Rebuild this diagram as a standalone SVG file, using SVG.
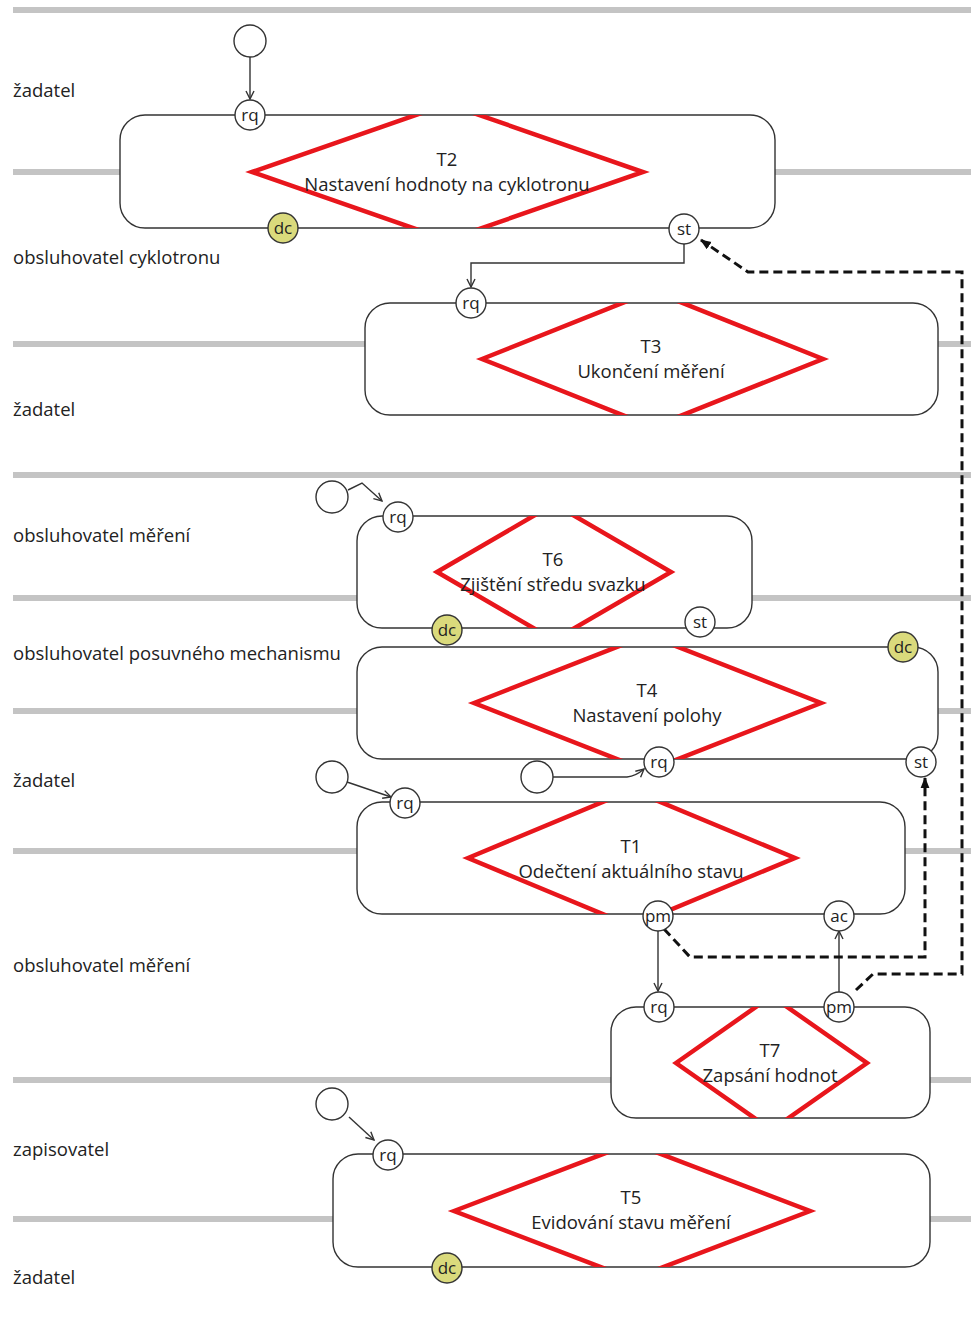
<svg xmlns="http://www.w3.org/2000/svg" width="971" height="1328" viewBox="0 0 971 1328">
  <style>
    .lane { stroke: #c4c4c4; stroke-width: 6; fill: none; }
    .role { font-family: "Open Sans", "Noto Sans", sans-serif; font-size: 18.5px; fill: #222; }
    .box { fill: #fff; stroke: #333; stroke-width: 1.4; }
    .dia { fill: none; stroke: #e8161c; stroke-width: 4.5; stroke-linejoin: miter; }
    .ttl { font-family: "Open Sans", "Noto Sans", sans-serif; font-size: 18.5px; fill: #222; text-anchor: middle; }
    .port { fill: #fff; stroke: #333; stroke-width: 1.4; }
    .done { fill: #dada7c; stroke: #333; stroke-width: 1.4; }
    .plbl { font-family: "Open Sans", "Noto Sans", sans-serif; font-size: 17px; fill: #222; text-anchor: middle; }
    .start { fill: #fff; stroke: #333; stroke-width: 1.4; }
    .flow { fill: none; stroke: #333; stroke-width: 1.4; marker-end: url(#open); }
    .wait { fill: none; stroke: #111; stroke-width: 3; stroke-dasharray: 9 5; marker-end: url(#solid); }
  </style>
  <defs>
    <marker id="open" viewBox="0 0 10 10" refX="9" refY="5" markerWidth="10" markerHeight="10" markerUnits="userSpaceOnUse" orient="auto">
      <path d="M1,1 L9,5 L1,9" fill="none" stroke="#333" stroke-width="1.4"/>
    </marker>
    <marker id="solid" viewBox="0 0 10 10" refX="9" refY="5" markerWidth="11" markerHeight="11" markerUnits="userSpaceOnUse" orient="auto">
      <path d="M0,1 L10,5 L0,9 Z" fill="#111"/>
    </marker>
    <clipPath id="c2"><rect x="120" y="115" width="655" height="113" rx="25"/></clipPath>
    <clipPath id="c3"><rect x="365" y="303" width="573" height="112" rx="25"/></clipPath>
    <clipPath id="c6"><rect x="357" y="516" width="395" height="112" rx="25"/></clipPath>
    <clipPath id="c4"><rect x="357" y="647" width="581" height="112" rx="25"/></clipPath>
    <clipPath id="c1"><rect x="357" y="802" width="548" height="112" rx="25"/></clipPath>
    <clipPath id="c7"><rect x="611" y="1007" width="319" height="111" rx="25"/></clipPath>
    <clipPath id="c5"><rect x="333" y="1154" width="597" height="113" rx="25"/></clipPath>
  </defs>
  <rect width="971" height="1328" fill="#fff"/>

  <!-- swimlane separators -->
  <g id="lanes">
    <line class="lane" x1="13" y1="10" x2="971" y2="10"/>
    <line class="lane" x1="13" y1="172" x2="971" y2="172"/>
    <line class="lane" x1="13" y1="344" x2="971" y2="344"/>
    <line class="lane" x1="13" y1="475" x2="971" y2="475"/>
    <line class="lane" x1="13" y1="598" x2="971" y2="598"/>
    <line class="lane" x1="13" y1="711" x2="971" y2="711"/>
    <line class="lane" x1="13" y1="851" x2="971" y2="851"/>
    <line class="lane" x1="13" y1="1080" x2="971" y2="1080"/>
    <line class="lane" x1="13" y1="1219" x2="971" y2="1219"/>
  </g>

  <!-- actor roles -->
  <g id="roles">
    <text class="role" x="13" y="97">žadatel</text>
    <text class="role" x="13" y="264">obsluhovatel cyklotronu</text>
    <text class="role" x="13" y="416">žadatel</text>
    <text class="role" x="13" y="542">obsluhovatel měření</text>
    <text class="role" x="13" y="660">obsluhovatel posuvného mechanismu</text>
    <text class="role" x="13" y="787">žadatel</text>
    <text class="role" x="13" y="972">obsluhovatel měření</text>
    <text class="role" x="13" y="1156">zapisovatel</text>
    <text class="role" x="13" y="1284">žadatel</text>
  </g>

  <!-- transactions -->
  <g id="T2">
    <rect class="box" x="120" y="115" width="655" height="113" rx="25"/>
    <polygon class="dia" clip-path="url(#c2)" points="252,172 447.5,104 643,172 447.5,240"/>
    <text class="ttl" x="447" y="166">T2</text>
    <text class="ttl" x="447" y="191">Nastavení hodnoty na cyklotronu</text>
  </g>
  <g id="T3">
    <rect class="box" x="365" y="303" width="573" height="112" rx="25"/>
    <polygon class="dia" clip-path="url(#c3)" points="482,359 652.5,291 823,359 652.5,427"/>
    <text class="ttl" x="651" y="353">T3</text>
    <text class="ttl" x="651" y="378">Ukončení měření</text>
  </g>
  <g id="T6">
    <rect class="box" x="357" y="516" width="395" height="112" rx="25"/>
    <polygon class="dia" clip-path="url(#c6)" points="437,572 554,504 671,572 554,640"/>
    <text class="ttl" x="553" y="566">T6</text>
    <text class="ttl" x="553" y="591">Zjištění středu svazku</text>
  </g>
  <g id="T4">
    <rect class="box" x="357" y="647" width="581" height="112" rx="25"/>
    <polygon class="dia" clip-path="url(#c4)" points="474,703 647.5,635 821,703 647.5,771"/>
    <text class="ttl" x="647" y="697">T4</text>
    <text class="ttl" x="647" y="722">Nastavení polohy</text>
  </g>
  <g id="T1">
    <rect class="box" x="357" y="802" width="548" height="112" rx="25"/>
    <polygon class="dia" clip-path="url(#c1)" points="468,858 631.5,790 795,858 631.5,926"/>
    <text class="ttl" x="631" y="853">T1</text>
    <text class="ttl" x="631" y="878">Odečtení aktuálního stavu</text>
  </g>
  <g id="T7">
    <rect class="box" x="611" y="1007" width="319" height="111" rx="25"/>
    <polygon class="dia" clip-path="url(#c7)" points="676,1063 771.5,996 867,1063 771.5,1130"/>
    <text class="ttl" x="770" y="1057">T7</text>
    <text class="ttl" x="770" y="1082">Zapsání hodnot</text>
  </g>
  <g id="T5">
    <rect class="box" x="333" y="1154" width="597" height="113" rx="25"/>
    <polygon class="dia" clip-path="url(#c5)" points="454,1211 632,1143 810,1211 632,1279"/>
    <text class="ttl" x="631" y="1204">T5</text>
    <text class="ttl" x="631" y="1229">Evidování stavu měření</text>
  </g>

  <!-- initiation starts -->
  <g id="starts">
    <circle class="start" cx="250" cy="41" r="16"/>
    <circle class="start" cx="332" cy="497" r="16"/>
    <circle class="start" cx="537" cy="777" r="16"/>
    <circle class="start" cx="332" cy="777" r="16"/>
    <circle class="start" cx="332" cy="1104" r="16"/>
  </g>

  <!-- connectors -->
  <g id="connectors">
    <path class="flow" d="M250,57 L250,99"/>
    <path class="flow" d="M684,244 L684,263 L471,263 L471,287"/>
    <path class="flow" d="M348,490 L362,483 L382,501"/>
    <path class="flow" d="M553,777 L627,777 Q636,776 644,769"/>
    <path class="flow" d="M347,782 L391,797"/>
    <path class="flow" d="M658,931 L658,991"/>
    <path class="flow" d="M839,992 L839,931"/>
    <path class="flow" d="M349,1117 L374,1140"/>
    <path class="wait" d="M664,929 L690,957 L925,957 L925,778"/>
    <path class="wait" d="M856,990 L873,974 L962,974 L962,272 L748,272 L701,240"/>
  </g>

  <!-- transaction ports -->
  <g id="ports">
    <g id="T2-rq"><circle class="port" cx="250" cy="115" r="15"/><text class="plbl" x="250" y="121">rq</text></g>
    <g id="T2-dc"><circle class="done" cx="283" cy="228" r="15"/><text class="plbl" x="283" y="234">dc</text></g>
    <g id="T2-st"><circle class="port" cx="684" cy="229" r="15"/><text class="plbl" x="684" y="235">st</text></g>
    <g id="T3-rq"><circle class="port" cx="471" cy="303" r="15"/><text class="plbl" x="471" y="309">rq</text></g>
    <g id="T6-rq"><circle class="port" cx="398" cy="517" r="15"/><text class="plbl" x="398" y="523">rq</text></g>
    <g id="T6-dc"><circle class="done" cx="447" cy="630" r="15"/><text class="plbl" x="447" y="636">dc</text></g>
    <g id="T6-st"><circle class="port" cx="700" cy="622" r="15"/><text class="plbl" x="700" y="628">st</text></g>
    <g id="T4-dc"><circle class="done" cx="903" cy="647" r="15"/><text class="plbl" x="903" y="653">dc</text></g>
    <g id="T4-rq"><circle class="port" cx="659" cy="762" r="15"/><text class="plbl" x="659" y="768">rq</text></g>
    <g id="T4-st"><circle class="port" cx="921" cy="762" r="15"/><text class="plbl" x="921" y="768">st</text></g>
    <g id="T1-rq"><circle class="port" cx="405" cy="803" r="15"/><text class="plbl" x="405" y="809">rq</text></g>
    <g id="T1-pm"><circle class="port" cx="658" cy="916" r="15"/><text class="plbl" x="658" y="922">pm</text></g>
    <g id="T1-ac"><circle class="port" cx="839" cy="916" r="15"/><text class="plbl" x="839" y="922">ac</text></g>
    <g id="T7-rq"><circle class="port" cx="659" cy="1007" r="15"/><text class="plbl" x="659" y="1013">rq</text></g>
    <g id="T7-pm"><circle class="port" cx="839" cy="1007" r="15"/><text class="plbl" x="839" y="1013">pm</text></g>
    <g id="T5-rq"><circle class="port" cx="388" cy="1155" r="15"/><text class="plbl" x="388" y="1161">rq</text></g>
    <g id="T5-dc"><circle class="done" cx="447" cy="1268" r="15"/><text class="plbl" x="447" y="1274">dc</text></g>
  </g>
</svg>
